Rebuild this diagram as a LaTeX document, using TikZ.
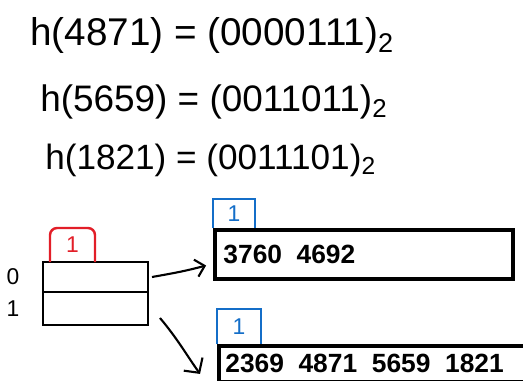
\documentclass[tikz,border=0pt]{standalone}
\usepackage{fontspec}
\setmainfont{Liberation Sans}
\usetikzlibrary{arrows.meta, positioning}
\definecolor{tabred}{RGB}{226,30,40}
\definecolor{tabblue}{RGB}{20,110,200}

\begin{document}
\begin{tikzpicture}[
            x=0.02cm, y=-0.02cm,
            >=Latex,
            % Estilo das linhas do diretório
            slot/.style={
                draw=black,
                rectangle,
                minimum width=2.1cm,
                line width=1.2pt,
                inner sep=0pt,
                outer sep=0pt
            },
            % Estilo dos baldes
            bucket/.style={
                draw=black,
                rectangle,
                line width=2.2pt,
                inner sep=0pt
            },
            % Estilo das abas de profundidade
            depth/.style={
                rectangle,
                inner sep=0pt,
                outer sep=0pt,
                font=\fontsize{13}{15}\selectfont
            },
            % Chaves dentro dos baldes
            keys/.style={
                inner sep=0pt,
                font=\fontsize{15}{17}\selectfont\bfseries
            },
            eq/.style={anchor=west, inner sep=0pt},
            % Estilo dos ponteiros
            pointer/.style={
                draw=black,
                line width=1.2pt,
                -{Straight Barb[length=5pt, width=10pt]}
            }
        ]
            \useasboundingbox (0,0) rectangle (523,381);
            \clip (0,0) rectangle (523,381);

            % Valores de hash
            \node [eq, font=\fontsize{22}{26}\selectfont] (eq1) at (30,36) {h(4871) = (0000111)\textsubscript{2}};
            \node [eq, font=\fontsize{21}{25}\selectfont] (eq2) at (40,102) {h(5659) = (0011011)\textsubscript{2}};
            \node [eq, font=\fontsize{20}{24}\selectfont] (eq3) at (45,160) {h(1821) = (0011101)\textsubscript{2}};

            % Diretório com duas entradas
            \node [slot, minimum height=0.6cm] (row0) at (95.5,277) {};
            \node [slot, minimum height=0.66cm, below=0pt of row0] (row1) {};
            \node [left=0.35cm of row0, font=\fontsize{13}{15}\selectfont] (idx0) {0};
            \node [left=0.35cm of row1, font=\fontsize{13}{15}\selectfont] (idx1) {1};

            % Profundidade global
            \node [depth, text=tabred, minimum width=0.9cm, minimum height=0.68cm, anchor=south west] (gd) at ([xshift=0.14cm]row0.north west) {1};
            \draw [tabred, line width=1.4pt, rounded corners=4pt] (gd.south west) |- (gd.north east) -- (gd.south east);

            % Baldes
            \node [bucket, minimum width=5.96cm, minimum height=0.98cm] (b0) at (364,254.5) {};
            \node [bucket, minimum width=6.9cm, minimum height=0.72cm, anchor=north west] (b1) at (217,344) {};
            \node [keys, right=0.2cm of b0.west] (k0) {3760\ \ 4692};
            \node [keys, right=0.16cm of b1.west] (k1) {2369\ \ 4871\ \ 5659\ \ 1821};

            % Profundidades locais
            \node [depth, text=tabblue, minimum width=0.84cm, minimum height=0.58cm, anchor=south west] (ld0) at (b0.north west) {1};
            \draw [tabblue, line width=1.4pt] (ld0.south west) |- (ld0.north east) -- (ld0.south east);
            \node [depth, text=tabblue, minimum width=0.88cm, minimum height=0.7cm, anchor=south west] (ld1) at (b1.north west) {1};
            \draw [tabblue, line width=1.4pt] (ld1.south west) |- (ld1.north east) -- (ld1.south east);

            % Ponteiros
            \draw [pointer] ([xshift=0.08cm]row0.east) to[out=10, in=195] ([shift={(-0.14cm,-0.22cm)}]b0.west);
            \draw [pointer, -{Straight Barb[length=6pt, width=13pt]}] ([shift={(0.24cm,0.14cm)}]row1.south east) to[out=-50, in=125] ([shift={(-0.34cm,-0.2cm)}]b1.west);

        \end{tikzpicture}
\end{document}
